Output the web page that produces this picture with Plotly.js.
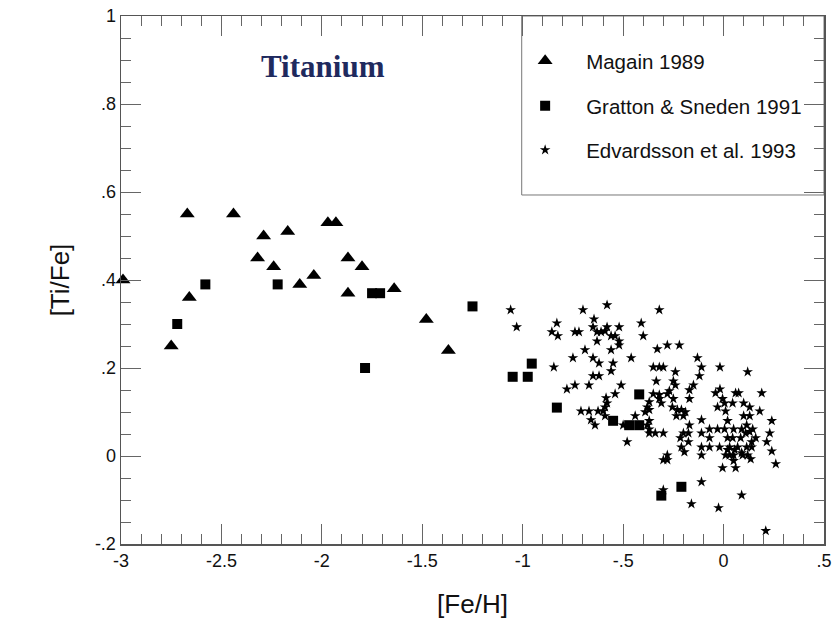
<!DOCTYPE html>
<html>
<head>
<meta charset="utf-8">
<script src="https://cdn.plot.ly/plotly-3.0.1.min.js"></script>
<style>html,body{margin:0;padding:0;background:#fff;}#chart{width:834px;height:625px;}</style>
</head>
<body>
<div id="chart"></div>
<script>
// Magain 1989 (triangles)
const magainFeH = [-2.99,-2.75,-2.67,-2.66,-2.44,-2.32,-2.29,-2.24,-2.17,-2.11,-2.04,-1.97,-1.93,-1.87,-1.87,-1.80,-1.64,-1.48,-1.37];
const magainTiFe = [0.40,0.25,0.55,0.36,0.55,0.45,0.50,0.43,0.51,0.39,0.41,0.53,0.53,0.45,0.37,0.43,0.38,0.31,0.24];

// Gratton & Sneden 1991 (squares)
const grattonFeH = [-2.72,-2.58,-2.22,-1.75,-1.71,-1.785,-1.25,-1.05,-0.975,-0.955,-0.83,-0.55,-0.47,-0.42,-0.42,-0.31,-0.21];
const grattonTiFe = [0.30,0.39,0.39,0.37,0.37,0.20,0.34,0.18,0.18,0.21,0.11,0.08,0.07,0.07,0.14,-0.09,-0.07];

// Edvardsson et al. 1993 (stars)
const edvFeH = [
-1.06,-1.03,-0.83,-0.855,-0.825,-0.74,-0.72,-0.70,-0.58,-0.645,-0.65,-0.63,-0.61,-0.59,-0.58,-0.52,-0.56,-0.54,-0.63,-0.52,
-0.52,-0.41,-0.40,-0.69,-0.56,-0.75,-0.65,-0.62,-0.55,-0.46,-0.845,-0.65,-0.62,-0.56,-0.78,-0.74,-0.67,-0.51,-0.54,-0.585,
-0.58,-0.59,-0.60,-0.71,-0.67,-0.625,-0.66,-0.64,-0.59,-0.44,-0.50,-0.48,-0.32,-0.33,-0.28,-0.22,-0.13,-0.11,-0.12,-0.15,
-0.17,-0.17,-0.35,-0.32,-0.30,-0.24,-0.335,-0.25,-0.24,-0.35,-0.32,-0.32,-0.31,-0.28,-0.27,-0.25,-0.255,-0.37,-0.38,-0.39,
-0.37,-0.37,-0.38,-0.37,-0.37,-0.34,-0.30,-0.23,-0.21,-0.19,-0.235,-0.20,-0.17,-0.215,-0.20,-0.175,-0.175,-0.21,-0.195,-0.11,
-0.11,-0.11,-0.11,-0.28,-0.30,-0.28,-0.11,-0.16,-0.018,0.12,-0.018,-0.04,-0.005,0.005,-0.03,0.06,0.075,0.045,0.10,0.13,
0.19,0.18,0.01,0.10,0.13,0.02,0.115,0.24,-0.07,-0.03,0.005,0.05,0.09,-0.07,0.02,0.045,0.085,0.11,0.13,0.145,
0.16,0.14,0.23,0.215,-0.07,-0.02,0.03,0.07,0.115,0.14,0.02,0.055,0.09,0.03,0.01,0.095,0.05,0.12,0.135,0.05,
0.24,0.26,-0.005,0.06,0.09,-0.025,0.21,-0.30
];
const edvTiFe = [
0.332,0.293,0.302,0.282,0.273,0.282,0.282,0.332,0.343,0.311,0.293,0.282,0.282,0.284,0.293,0.293,0.273,0.273,0.261,0.261,
0.252,0.302,0.273,0.241,0.241,0.223,0.223,0.211,0.211,0.223,0.202,0.182,0.182,0.193,0.152,0.161,0.161,0.161,0.141,0.132,
0.120,0.111,0.102,0.102,0.102,0.102,0.082,0.070,0.091,0.091,0.070,0.032,0.332,0.243,0.252,0.252,0.223,0.202,0.182,0.161,
0.150,0.130,0.202,0.202,0.202,0.191,0.170,0.170,0.161,0.141,0.139,0.130,0.120,0.141,0.148,0.130,0.111,0.123,0.111,0.100,
0.105,0.080,0.070,0.061,0.052,0.052,0.052,0.105,0.105,0.100,0.091,0.091,0.070,0.041,0.052,0.052,0.032,0.020,0.009,0.082,
0.052,0.020,0.002,0.002,-0.009,-0.009,-0.059,-0.109,0.202,0.191,0.152,0.143,0.130,0.120,0.111,0.143,0.143,0.120,0.120,0.111,
0.143,0.102,0.102,0.091,0.091,0.080,0.070,0.080,0.061,0.061,0.061,0.061,0.061,0.041,0.041,0.041,0.041,0.052,0.055,0.061,
0.041,0.032,0.052,0.032,0.020,0.020,0.020,0.020,0.020,0.020,0.014,0.014,0.007,0.002,0.002,0.002,0.002,0.002,-0.007,-0.011,
0.011,-0.018,-0.027,-0.027,-0.089,-0.118,-0.170,-0.077
];

const xTickVals = [-3,-2.5,-2,-1.5,-1,-0.5,0,0.5];
const xTickText = ['-3','-2.5','-2','-1.5','-1','-.5','0','.5'];
const yTickVals = [-0.2,0,0.2,0.4,0.6,0.8,1];
const yTickText = ['-.2','0','.2','.4','.6','.8','1'];

const FONT = 'Liberation Sans, Arial, Helvetica, sans-serif';
const axisColor = '#555';
const tickColor = '#666';

const traces = [
  {x: magainFeH, y: magainTiFe, type: 'scatter', mode: 'markers', name: 'Magain 1989',
   marker: {symbol: 'triangle-up', size: 13, color: '#000'}, cliponaxis: false, legend: 'legend'},
  {x: grattonFeH, y: grattonTiFe, type: 'scatter', mode: 'markers', name: 'Gratton & Sneden 1991',
   marker: {symbol: 'square', size: 10, color: '#000'}, cliponaxis: false, legend: 'legend2'},
  {x: edvFeH, y: edvTiFe, type: 'scatter', mode: 'markers', name: 'Edvardsson et al. 1993',
   marker: {symbol: 'star', size: 8, color: '#000', line: {width: 0}}, cliponaxis: false, legend: 'legend3'}
];

function legendAt(y) {
  return {x: 0.545, y: y, xanchor: 'left', yanchor: 'middle', bgcolor: 'rgba(0,0,0,0)', borderwidth: 0,
          itemwidth: 72, font: {family: FONT, size: 20.5, color: '#111'}};
}

const layout = {
  width: 834, height: 625,
  margin: {l: 121, r: 10, t: 16, b: 81},
  paper_bgcolor: '#fff', plot_bgcolor: '#fff',
  showlegend: true,
  legend: legendAt(0.915),
  legend2: legendAt(0.8295),
  legend3: legendAt(0.746),
  xaxis: {
    range: [-3, 0.5], tickmode: 'array', tickvals: xTickVals, ticktext: xTickText,
    ticks: 'inside', ticklen: 20, tickwidth: 1, tickcolor: tickColor,
    minor: {dtick: 0.1, tick0: 0, ticks: 'inside', ticklen: 10, tickwidth: 1, tickcolor: tickColor},
    showline: true, linecolor: axisColor, linewidth: 1.5, mirror: 'ticks',
    showgrid: false, zeroline: false,
    tickfont: {family: FONT, size: 18, color: '#111'},
    title: {text: '[Fe/H]', font: {family: FONT, size: 26, color: '#111'}, standoff: 24}
  },
  yaxis: {
    range: [-0.2, 1], tickmode: 'array', tickvals: yTickVals, ticktext: yTickText,
    ticks: 'inside', ticklen: 20, tickwidth: 1, tickcolor: tickColor,
    minor: {dtick: 0.05, tick0: 0, ticks: 'inside', ticklen: 10, tickwidth: 1, tickcolor: tickColor},
    showline: true, linecolor: axisColor, linewidth: 1.5, mirror: 'ticks',
    showgrid: false, zeroline: false,
    tickfont: {family: FONT, size: 18, color: '#111'},
    title: {text: '[Ti/Fe]', font: {family: FONT, size: 26, color: '#111'}, standoff: 18}
  },
  shapes: [
    {type: 'rect', xref: 'paper', yref: 'paper', x0: 0.570, x1: 1, y0: 0.661, y1: 1,
     line: {color: '#777', width: 1}, fillcolor: 'rgba(0,0,0,0)', layer: 'below'}
  ],
  annotations: [
    {text: '<b>Titanium</b>', xref: 'paper', yref: 'paper', x: 0.2873, y: 0.905,
     xanchor: 'center', yanchor: 'middle', showarrow: false,
     font: {family: 'Liberation Serif, Times New Roman, serif', size: 31, color: '#1f2a5e'}}
  ]
};

Plotly.newPlot('chart', traces, layout, {displayModeBar: false, staticPlot: true});
</script>
</body>
</html>
